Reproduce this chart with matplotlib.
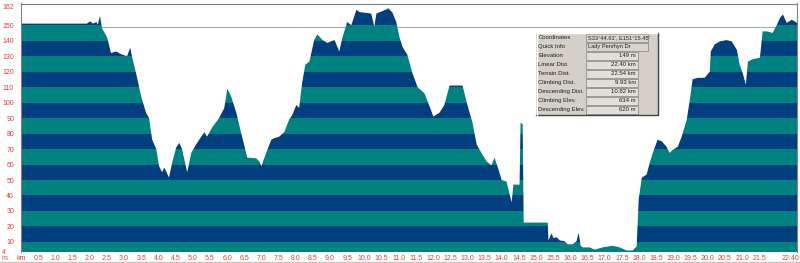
import matplotlib.pyplot as plt
import numpy as np
from matplotlib.lines import Line2D
from matplotlib.patches import Polygon, Rectangle

plt.rcParams['font.family'] = ['Liberation Sans', 'DejaVu Sans']

# elevation profile
dist_km = [
    0.00, 0.03, 0.52, 1.11, 1.92, 2.01, 2.10, 2.19, 2.24, 2.30,
    2.36, 2.51, 2.62, 2.77, 2.94, 3.09, 3.18, 3.24, 3.35, 3.50,
    3.64, 3.73, 3.82, 3.94, 4.02, 4.11, 4.17, 4.23, 4.31, 4.40,
    4.52, 4.61, 4.69, 4.84, 4.96, 5.10, 5.34, 5.42, 5.57, 5.77,
    5.92, 6.01, 6.12, 6.27, 6.41, 6.59, 6.85, 6.94, 7.00, 7.14,
    7.29, 7.38, 7.52, 7.67, 7.81, 7.90, 8.02, 8.10, 8.19, 8.28,
    8.40, 8.54, 8.63, 8.78, 8.92, 9.13, 9.27, 9.36, 9.50, 9.62,
    9.77, 9.85, 10.20, 10.29, 10.35, 10.52, 10.70, 10.82, 10.93, 11.02,
    11.11, 11.25, 11.40, 11.55, 11.75, 11.90, 12.01, 12.19, 12.33, 12.48,
    12.86, 13.00, 13.15, 13.27, 13.41, 13.56, 13.70, 13.79, 13.88, 14.00,
    14.14, 14.29, 14.34, 14.52, 14.55, 14.61, 14.64, 15.34, 15.36, 15.45,
    15.51, 15.60, 15.69, 15.83, 15.92, 16.06, 16.18, 16.24, 16.30, 16.36,
    16.56, 16.71, 16.94, 17.23, 17.43, 17.64, 17.81, 17.93, 17.99, 18.08,
    18.22, 18.31, 18.40, 18.54, 18.66, 18.80, 18.89, 18.98, 19.13, 19.24,
    19.39, 19.48, 19.56, 19.71, 19.91, 20.06, 20.09, 20.20, 20.35, 20.55,
    20.70, 20.85, 20.93, 21.02, 21.11, 21.17, 21.31, 21.52, 21.60, 21.72,
    21.89, 22.01, 22.10, 22.19, 22.30, 22.45, 22.60,
]
elev_m = [
    153, 151, 151, 151, 151, 152.5, 151, 152, 150.5, 156,
    148, 142, 132, 133, 131, 130, 135.5, 129, 119, 104,
    93.5, 90, 76, 70, 59, 55, 58, 55.5, 51.5, 61,
    71, 74, 70, 55, 67.5, 73, 81, 78, 84, 90,
    96.5, 109, 104, 93.5, 80.5, 64.5, 64, 62, 59, 67.5,
    76, 77, 78, 81, 89, 92, 98.5, 96.5, 113, 124.5,
    126.5, 140.5, 144, 140.5, 138.5, 140.5, 133, 142, 152, 150,
    160, 158.5, 157.5, 149, 157.5, 159, 161, 158, 152, 142.5,
    136, 131, 119, 110, 106, 97.5, 91, 93.5, 98.5, 111,
    111, 98.5, 87, 73, 67.5, 62, 59.5, 64.5, 58.5, 50,
    49, 35.5, 47, 47, 87, 86, 22.5, 22.5, 11, 15.5,
    12.5, 13, 11, 10.5, 8.5, 8.5, 10.5, 16, 7.5, 6.5,
    6.5, 5, 6.5, 7.5, 6.5, 4.5, 4.5, 7, 37.5, 51.5,
    53.5, 61, 67.5, 76, 75, 71.5, 67.5, 69.5, 71.5, 78,
    89, 102, 115, 116, 116, 120, 133, 137.5, 139.5, 140.5,
    139.5, 134, 124.5, 119, 111.5, 126.5, 128, 129, 146, 146,
    145, 150, 154.5, 157, 151.5, 153.5, 151.5,
]

y_ticks = [10, 20, 30, 40, 50, 60, 70, 80, 90, 100, 110, 120, 130, 140, 150, 162]
x_ticks = [0, 0.5, 1.0, 1.5, 2.0, 2.5, 3.0, 3.5, 4.0, 4.5, 5.0, 5.5, 6.0, 6.5, 7.0,
           7.5, 8.0, 8.5, 9.0, 9.5, 10.0, 10.5, 11.0, 11.5, 12.0, 12.5, 13.0, 13.5,
           14.0, 14.5, 15.0, 15.5, 16.0, 16.5, 17.0, 17.5, 18.0, 18.5, 19.0, 19.5,
           20.0, 20.5, 21.0, 21.5, 22.4]
x_labels = ['km'] + [f'{v:.1f}' for v in x_ticks[1:-1]] + ['22.40']

cursor_elev = 149

info_labels = ['Coordinates', 'Quick Info', 'Elevation', 'Linear Dist.', 'Terrain Dist.',
               'Climbing Dist.', 'Descending Dist.', 'Climbing Elev.', 'Descending Elev.']
info_values = ["S33°44.61', E151°15.45'", 'Lady Penrhyn Dr', '149 m', '22.40 km',
               '22.54 km', '9.93 km', '10.82 km', '634 m', '620 m']

TEAL = '#00807f'
NAVY = '#003e7e'
RED = '#e03c3c'
NARROW = ['Liberation Sans Narrow', 'Liberation Sans', 'DejaVu Sans']

W, H = 800, 263
fig = plt.figure(figsize=(W / 100, H / 100), dpi=100)


def px_box(x0, y0, x1, y1):
    return [x0 / W, 1 - y1 / H, (x1 - x0) / W, (y1 - y0) / H]


ymin = 3.5
ax = fig.add_axes(px_box(21, 3.5, 797, 252))
ax.set_xlim(0, 22.6)
ax.set_ylim(ymin, 164)

ax.axhline(cursor_elev, color='#a8a8a8', lw=0.8, zorder=0.5)

# striped fill: horizontal 10 m bands clipped to the profile
verts = [(dist_km[0], ymin)] + list(zip(dist_km, elev_m)) + [(dist_km[-1], ymin)]
profile = Polygon(verts, closed=True, facecolor='none', edgecolor='none')
ax.add_patch(profile)
edges = [ymin] + list(range(10, 180, 10))
for i in range(len(edges) - 1):
    band = ax.axhspan(edges[i], edges[i + 1], color=TEAL if i % 2 == 0 else NAVY,
                      lw=0, zorder=1)
    band.set_clip_path(profile)

ax.set_yticks(y_ticks)
ax.set_yticklabels([str(v) for v in y_ticks])
ax.set_xticks(x_ticks)
ax.set_xticklabels(x_labels)
ax.tick_params(length=0, labelsize=5, labelcolor=RED)
ax.tick_params(axis='y', pad=5)
ax.tick_params(axis='x', pad=2)
for s in ['left', 'top', 'right']:
    ax.spines[s].set_color('#808080')
    ax.spines[s].set_linewidth(0.8)
ax.spines['bottom'].set_visible(False)

fig.text(2 / W, 1 - 252 / H, '4', fontsize=5, color=RED, va='center', ha='left')
fig.text(2 / W, 1 - 258.5 / H, 'm', fontsize=5, color=RED, va='center', ha='left')
fig.add_artist(Line2D([0, 1], [1 - 262 / H] * 2, color='#c8c8c8', lw=1,
                      transform=fig.transFigure))

# info panel
bx = fig.add_axes(px_box(536, 33, 658, 116))
bx.set_xlim(536, 658)
bx.set_ylim(116, 33)
bx.axis('off')
bx.add_patch(Rectangle((536, 33), 122, 83, facecolor='#d4d0c8', edgecolor='none'))
bx.plot([657.5, 657.5, 536], [33, 115.5, 115.5], color='#404040', lw=1, clip_on=False)
bx.plot([536.5, 536.5, 657], [115, 33.5, 33.5], color='white', lw=1, clip_on=False)

row_y = [37.5, 46.5, 56, 65, 74, 83, 92, 101, 110]
for i, (lab, val) in enumerate(zip(info_labels, info_values)):
    y = row_y[i]
    bx.text(538.5, y, lab, fontsize=4.3, family=NARROW, va='center', ha='left',
            color='#202020', zorder=5)
    if i < 2:
        bx.add_patch(Rectangle((586, y - 4), 62, 8, facecolor='#d8d4cc',
                               edgecolor='#909090', lw=0.6))
        bx.text(587.5, y, val, fontsize=4.1, family=NARROW, va='center', ha='left',
                color='#202020', zorder=5)
    else:
        bx.add_patch(Rectangle((586, y - 4), 52, 8, facecolor='#e2dfd9',
                               edgecolor='#909090', lw=0.6))
        bx.text(636, y, val, fontsize=4.3, family=NARROW, va='center', ha='right',
                color='#202020', zorder=5)

fig.savefig('out.png', dpi=100)
